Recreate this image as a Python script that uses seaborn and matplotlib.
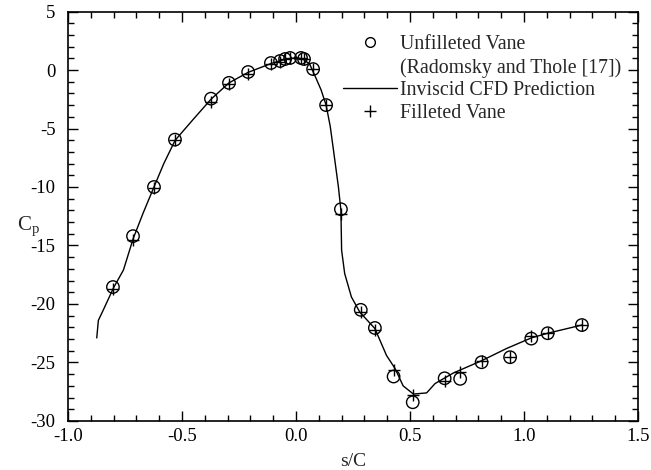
import matplotlib
matplotlib.use("Agg")
import matplotlib.pyplot as plt
from matplotlib.lines import Line2D
from matplotlib.ticker import MultipleLocator, FormatStrFormatter
import seaborn as sns
import pandas as pd

# Unfilleted vane (Radomsky and Thole [17]) - circles
unf_x = [-0.803, -0.715, -0.623, -0.531, -0.373, -0.294, -0.21, -0.11, -0.07, -0.048, -0.026,
         0.022, 0.035, 0.075, 0.132, 0.197, 0.284, 0.346, 0.428, 0.512, 0.652, 0.72, 0.814,
         0.939, 1.032, 1.104, 1.254]
unf_y = [-18.55, -14.2, -10.0, -5.95, -2.45, -1.1, -0.17, 0.6, 0.77, 0.94, 1.03,
         1.03, 0.94, 0.08, -3.0, -11.9, -20.5, -22.05, -26.2, -28.4, -26.35, -26.4, -24.98,
         -24.55, -22.96, -22.5, -21.8]

# Filleted vane - plus markers
fil_x = [-0.803, -0.715, -0.623, -0.531, -0.373, -0.294, -0.21, -0.11, -0.07, -0.048, -0.026,
         0.022, 0.035, 0.075, 0.132, 0.197, 0.284, 0.346, 0.428, 0.512, 0.652, 0.72, 0.814,
         0.939, 1.032, 1.104, 1.254]
fil_y = [-18.7, -14.5, -10.1, -6.0, -2.7, -1.2, -0.3, 0.55, 0.7, 0.9, 1.0,
         1.0, 0.9, 0.05, -3.0, -12.3, -20.7, -22.2, -25.6, -27.8, -26.6, -25.8, -24.9,
         -24.55, -22.75, -22.5, -21.8]

# Inviscid CFD prediction - line
cfd_x = [-0.874, -0.867, -0.845, -0.80, -0.757, -0.714, -0.67, -0.623, -0.58, -0.53, -0.45,
         -0.373, -0.294, -0.21, -0.11, -0.05, 0.0, 0.03, 0.06, 0.09, 0.11, 0.132, 0.15, 0.164,
         0.186, 0.197, 0.2, 0.2135, 0.243, 0.28, 0.346, 0.397, 0.434, 0.47, 0.515, 0.573,
         0.61, 0.69, 0.814, 0.924, 1.032, 1.104, 1.254]
cfd_y = [-22.9, -21.4, -20.5, -18.6, -17.1, -14.4, -12.2, -10.0, -8.0, -6.0, -4.2,
         -2.5, -1.1, -0.2, 0.55, 0.9, 1.05, 0.95, 0.5, -0.8, -1.7, -3.0, -4.8, -6.8,
         -10.0, -12.0, -15.4, -17.4, -19.4, -20.7, -22.1, -24.4, -25.5, -27.0, -27.7, -27.6,
         -26.8, -25.9, -24.85, -23.8, -22.9, -22.5, -21.8]

x_ticks = [-1.0, -0.5, 0.0, 0.5, 1.0, 1.5]
y_ticks = [5, 0, -5, -10, -15, -20, -25, -30]

sns.set_theme(style="ticks")
plt.rcParams['font.family'] = ['Liberation Serif', 'DejaVu Serif']
plt.rcParams['axes.unicode_minus'] = False
plt.rcParams['mathtext.fontset'] = 'custom'
plt.rcParams['mathtext.rm'] = 'Liberation Serif'

fig = plt.figure(figsize=(6.51, 4.70), dpi=100)
ax = fig.add_axes([0.1045, 0.1043, 0.8755, 0.8712])

df_cfd = pd.DataFrame({"x": cfd_x, "y": cfd_y})
df_unf = pd.DataFrame({"x": unf_x, "y": unf_y})
df_fil = pd.DataFrame({"x": fil_x, "y": fil_y})

sns.lineplot(data=df_cfd, x="x", y="y", ax=ax, color="black", linewidth=1.0,
             sort=False, estimator=None)
sns.scatterplot(data=df_unf, x="x", y="y", ax=ax, marker="o", s=80,
                facecolors="none", edgecolor="black", linewidth=1.0)
sns.scatterplot(data=df_fil, x="x", y="y", ax=ax, marker="+", s=80,
                color="black", linewidth=1.0)

ax.set_xlim(-1.0, 1.5)
ax.set_ylim(-30, 5)
ax.set_xticks(x_ticks)
ax.set_yticks(y_ticks)
ax.xaxis.set_major_formatter(FormatStrFormatter('%.1f'))
ax.xaxis.set_minor_locator(MultipleLocator(0.1))
ax.yaxis.set_minor_locator(MultipleLocator(1))
ax.tick_params(which="both", direction="in", top=True, right=True, colors="black",
               labelsize=13.5, width=1.0)
ax.tick_params(which="major", length=7)
ax.tick_params(which="minor", length=4)
ax.tick_params(axis="y", which="major", pad=9)
ax.tick_params(axis="x", which="major", pad=5)
for sp in ax.spines.values():
    sp.set_color("black")
    sp.set_linewidth(1.2)

ax.set_xlabel("s/C", fontsize=14, labelpad=6)
ax.set_ylabel("")
fig.text(28 / 651, 1 - 227 / 470, r"C$_\mathregular{p}$", fontsize=15,
         ha="center", va="center")

handles = [
    Line2D([], [], marker="o", linestyle="none", markerfacecolor="none",
           markeredgecolor="black", markersize=7),
    Line2D([], [], linestyle="none"),
    Line2D([], [], color="black", linewidth=1.0),
    Line2D([], [], marker="+", linestyle="none", color="black", markersize=8),
]
labels = ["Unfilleted Vane", "(Radomsky and Thole [17])", "Inviscid CFD Prediction",
          "Filleted Vane"]
leg = ax.legend(handles, labels, loc="upper left",
                bbox_to_anchor=((343 - 68) / 570, (421 - 35) / 409.5),
                frameon=False, fontsize=14.3, handlelength=2.7, labelspacing=0.19,
                handletextpad=0.15, borderpad=0, borderaxespad=0)

fig.savefig("out.png", dpi=100)
